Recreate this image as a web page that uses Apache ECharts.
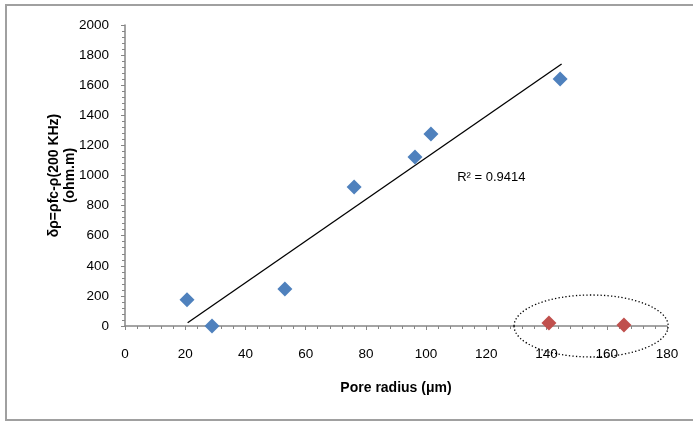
<!DOCTYPE html>
<html>
<head>
<meta charset="utf-8">
<script src="https://cdn.jsdelivr.net/npm/echarts@6/dist/echarts.min.js"></script>
<style>
html,body{margin:0;padding:0;background:#fff;}
#frame{position:absolute;left:5px;top:4px;width:700px;height:417px;border:2px solid #a0a0a0;box-sizing:border-box;}
#chart{position:absolute;left:0;top:0;width:693px;height:422px;}
</style>
</head>
<body>
<div id="frame"></div>
<div id="chart"></div>
<script>
// Data
const blueX = [20.6, 28.9, 53.1, 76.1, 96.3, 101.6, 144.5];
const blueY = [175, 0, 246, 924, 1123, 1276, 1641];
const redX = [140.8, 165.7];
const redY = [20, 7];
const trendX = [20.8, 145];
const trendY = [22, 1741];
const xTicks = [0, 20, 40, 60, 80, 100, 120, 140, 160, 180];
const yTicks = [0, 200, 400, 600, 800, 1000, 1200, 1400, 1600, 1800, 2000];
const ellipseCenter = [154.8, 0];
const ellipseRadius = [25.6, 206];
const r2Label = 'R² = 0.9414';
const r2Pos = [110.3, 990];

const font = 'Liberation Sans';
const axisColor = '#868686';
const zip = (a, b) => a.map((v, i) => [v, b[i]]);

const chart = echarts.init(document.getElementById('chart'), null, {renderer: 'canvas'});
const option = {
  animation: false,
  backgroundColor: 'transparent',
  grid: {left: 125, right: 26, top: 25, bottom: 96, containLabel: false},
  xAxis: {
    type: 'value', min: xTicks[0], max: xTicks[xTicks.length - 1], interval: 20,
    name: 'Pore radius (μm)', nameLocation: 'middle', nameGap: 55,
    nameTextStyle: {fontFamily: font, fontSize: 14, fontWeight: 'bold', color: '#000'},
    axisLine: {show: true, onZero: false, lineStyle: {color: axisColor, width: 1.5}},
    axisTick: {show: true, inside: false, length: 4, lineStyle: {color: axisColor}},
    minorTick: {show: true, splitNumber: 5, length: 3, lineStyle: {color: axisColor}},
    axisLabel: {fontFamily: font, fontSize: 13.5, color: '#000', margin: 21},
    splitLine: {show: false}
  },
  yAxis: {
    type: 'value', min: yTicks[0], max: yTicks[yTicks.length - 1], interval: 200,
    name: 'δρ=ρfc-ρ(200 KHz)\n(ohm.m)', nameLocation: 'middle', nameGap: 47, nameMoveOverlap: false,
    nameTextStyle: {fontFamily: font, fontSize: 14, fontWeight: 'bold', color: '#000', lineHeight: 16},
    axisLine: {show: true, lineStyle: {color: axisColor, width: 1.5}},
    axisTick: {show: true, inside: false, length: 4, lineStyle: {color: axisColor}},
    minorTick: {show: true, splitNumber: 5, length: 3, lineStyle: {color: axisColor}},
    axisLabel: {fontFamily: font, fontSize: 13.5, color: '#000', margin: 16, formatter: v => String(v)},
    splitLine: {show: false}
  },
  series: [
    {
      type: 'line', data: zip(trendX, trendY), symbol: 'none',
      lineStyle: {color: '#000', width: 1.3}, z: 2
    },
    {
      type: 'scatter', data: zip(blueX, blueY), symbol: 'diamond', symbolSize: 15,
      itemStyle: {color: '#4F81BD', opacity: 1}, z: 3
    },
    {
      type: 'scatter', data: zip(redX, redY), symbol: 'diamond', symbolSize: 15,
      itemStyle: {color: '#C0504D', opacity: 1}, z: 3
    }
  ]
};
chart.setOption(option);

function drawAnnotations() {
  const c = chart.convertToPixel({gridIndex: 0}, ellipseCenter);
  const e = chart.convertToPixel({gridIndex: 0}, [ellipseCenter[0] + ellipseRadius[0], ellipseCenter[1] + ellipseRadius[1]]);
  const t = chart.convertToPixel({gridIndex: 0}, r2Pos);
  chart.setOption({
    graphic: [
      {
        type: 'ellipse', z: 10,
        shape: {cx: c[0], cy: c[1], rx: Math.abs(e[0] - c[0]), ry: Math.abs(c[1] - e[1])},
        style: {fill: 'none', stroke: '#000', lineWidth: 1.3, lineDash: [1.3, 2.2]}
      },
      {
        type: 'text', z: 10, x: t[0], y: t[1],
        style: {text: r2Label, fontFamily: font, fontSize: 13, fill: '#000', textVerticalAlign: 'middle'}
      }
    ]
  });
}
drawAnnotations();
</script>
</body>
</html>
